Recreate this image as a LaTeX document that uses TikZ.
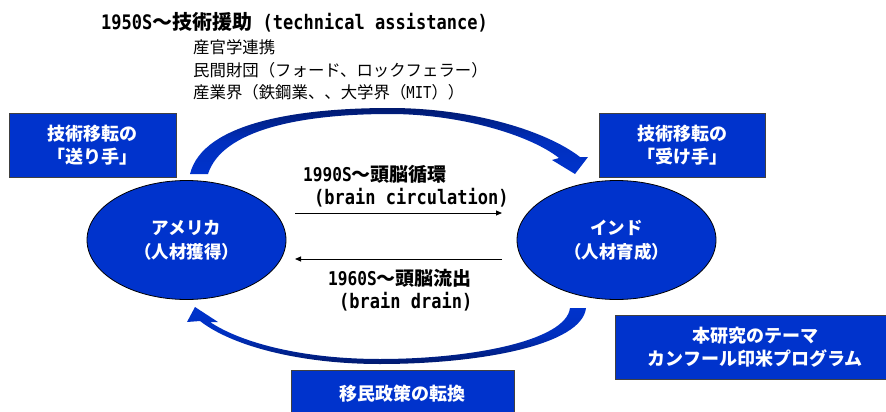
\documentclass[tikz,border=0pt]{standalone}
\usepackage{fontspec}
\setmainfont{Noto Sans CJK JP}
\newfontfamily\mono{DejaVu Sans Mono}[FakeStretch=0.85]
\usetikzlibrary{shapes.geometric,arrows.meta}
\definecolor{blu}{RGB}{0,51,204}
\definecolor{navy}{RGB}{0,25,110}
\tikzset{
  bluebox/.style={draw=black!75, line width=0.8pt, fill=blu, text=white, align=center, inner sep=0pt,
    font={\bfseries\fontsize{18}{22.5}\selectfont}},
  blueell/.style={ellipse, draw=black, line width=0.8pt, fill=blu, text=white, align=center, inner sep=0pt,
    minimum width=199pt, minimum height=119pt, font={\bfseries\fontsize{17.5}{24}\selectfont}},
  lbl/.style={inner sep=0pt, anchor=west, text=black},
  flow/.style={line width=0.9pt, -{Triangle[length=6pt,width=5pt]}},
}
\begin{document}
\begin{tikzpicture}[x=1pt,y=-1pt]
\useasboundingbox (0,0) rectangle (886,412);
% top curved arrow
\shade[top color=navy, bottom color=blu, middle color=blu!85!navy]
  (190,174) .. controls (203,122) and (300,108) .. (390,108)
  .. controls (470,108) and (545,130) .. (580,157)
  -- (588,157) -- (575,174) -- (552,160) -- (559,158)
  .. controls (530,135) and (460,114) .. (390,114)
  .. controls (300,114) and (222,130) .. (208,174) -- cycle;
% bottom curved arrow
\shade[top color=blu, bottom color=navy, middle color=blu!85!navy]
  (586,308) .. controls (582,345) and (480,364) .. (380,364)
  .. controls (300,364) and (232,346) .. (200,321)
  -- (187,322) -- (195,307) -- (218,322) -- (210,322)
  .. controls (240,342) and (300,359) .. (380,359)
  .. controls (470,359) and (566,341) .. (570,308) -- cycle;
% boxes
\node[bluebox, minimum width=167pt, minimum height=64pt] (sender) at (92.5,145) {技術移転の\\「送り手」};
\node[bluebox, minimum width=166pt, minimum height=64pt] (receiver) at (682,145) {技術移転の\\「受け手」};
\node[bluebox, minimum width=223pt, minimum height=48pt] (immig) at (402.5,394) {移民政策の転換};
\node[bluebox, minimum width=280pt, minimum height=64pt] (theme) at (755,347) {本研究のテーマ\\カンフール印米プログラム};
% ellipses
\node[blueell] (usa) at (186.5,240) {アメリカ\\（人材獲得）};
\node[blueell] (india) at (616.5,240) {インド\\（人材育成）};
% title texts
\node[lbl] (title) at (101,22) {\bfseries\fontsize{20}{24}\selectfont{\mono 1950S}～技術援助{\mono\ (technical assistance)}};
\node[lbl] (l1) at (193,47) {\fontsize{16.4}{20}\selectfont 産官学連携};
\node[lbl] (l2) at (193,70) {\fontsize{16.4}{20}\selectfont 民間財団（フォード、ロックフェラー）};
\node[lbl] (l3) at (193,92) {\fontsize{16.4}{20}\selectfont 産業界（鉄鋼業、、大学界（{\mono MIT}））};
% middle
\node[lbl] (circ1) at (303,174) {\bfseries\fontsize{19}{22}\selectfont{\mono 1990S}～頭脳循環};
\node[lbl] (circ2) at (314,198) {\bfseries\fontsize{20}{22}\selectfont\mono (brain circulation)};
\node[lbl] (drain1) at (328,278) {\bfseries\fontsize{19}{22}\selectfont{\mono 1960S}～頭脳流出};
\node[lbl] (drain2) at (339,302) {\bfseries\fontsize{20}{22}\selectfont\mono (brain drain)};
\coordinate (a1) at (295,213);
\coordinate (b1) at (502,213);
\coordinate (a2) at (502,259);
\coordinate (b2) at (295,259);
\draw[flow] (a1) -- (b1);
\draw[flow] (a2) -- (b2);
\end{tikzpicture}
\end{document}
